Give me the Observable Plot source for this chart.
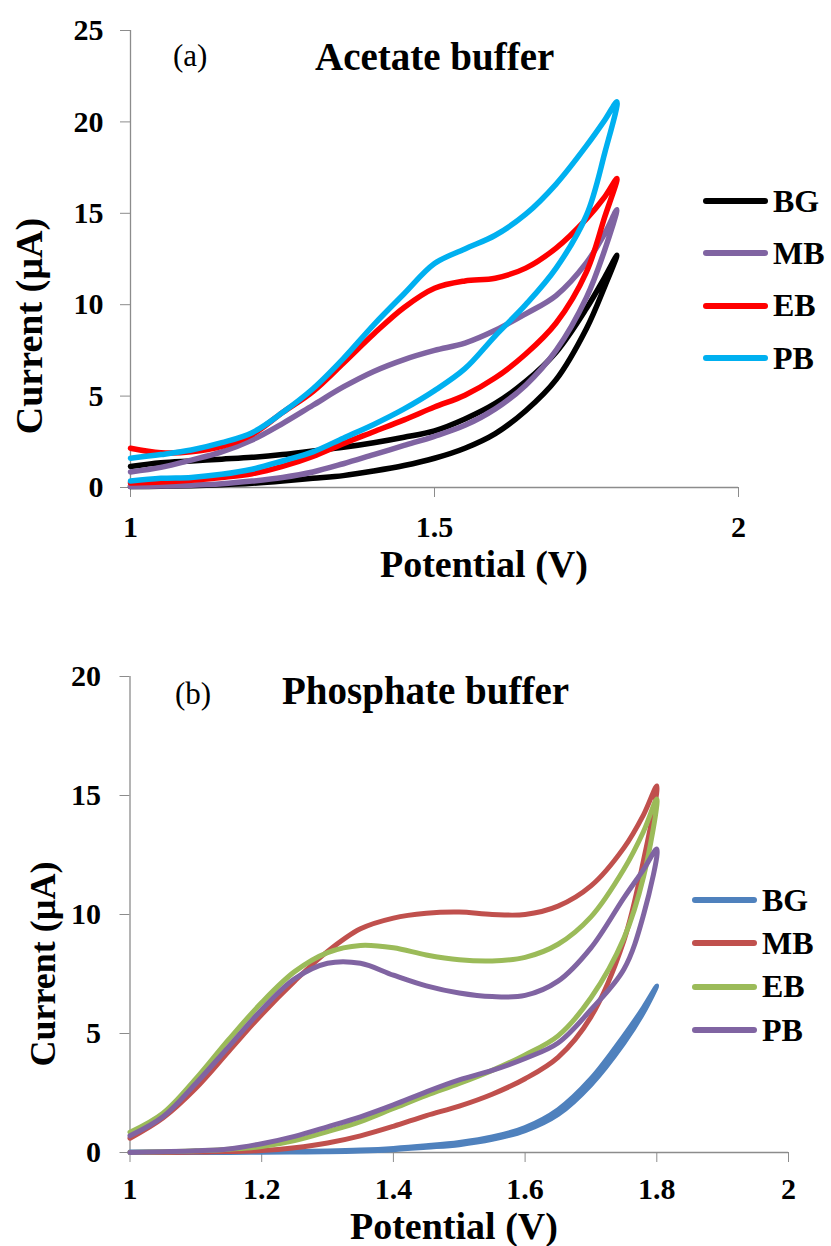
<!DOCTYPE html>
<html>
<head>
<meta charset="utf-8">
<script src="https://cdn.jsdelivr.net/npm/d3@7"></script>
<script src="https://cdn.jsdelivr.net/npm/@observablehq/plot@0.6"></script>
<style>
  body { margin: 0; background: #fff; }
  #page { position: relative; width: 831px; height: 1246px; overflow: hidden; background: #fff;
          font-family: 'Liberation Serif', serif; color: #000; }
  .lbl { position: absolute; white-space: nowrap; line-height: 1; font-family: 'Liberation Serif', serif; }
  .chart { position: absolute; left: 0; }
  .swatch { position: absolute; height: 6px; border-radius: 3px; }
  #page svg text { font-family: 'Liberation Serif', serif !important; font-weight: bold !important; }
</style>
</head>
<body>
<div id="page">
  <div id="chartA" class="chart" style="top:0px"></div>
  <div id="chartB" class="chart" style="top:620px"></div>
</div>
<script>
// ---------------- data ----------------
const seriesNames = ["BG", "MB", "EB", "PB"];
const colorsA = ["#000000", "#8064A2", "#FF0000", "#00B0F0"];
const colorsB = ["#4F81BD", "#C0504D", "#9BBB59", "#8064A2"];

// potential grid (V) shared by all branches
const potential = [1.00, 1.05, 1.10, 1.15, 1.20, 1.25, 1.30, 1.35, 1.40, 1.45, 1.50, 1.55, 1.60, 1.65, 1.70, 1.75, 1.78, 1.80];

// (a) Acetate buffer — lower branch (scan 1.0 -> 1.8 V), current in µA
const aBG_low = [0.05, 0.07, 0.10, 0.15, 0.23, 0.35, 0.50, 0.65, 0.90, 1.20, 1.60, 2.15, 2.95, 4.20, 5.90, 8.70, 11.0, 12.7];
const aMB_low = [0.05, 0.08, 0.12, 0.20, 0.35, 0.55, 0.85, 1.30, 1.80, 2.30, 2.80, 3.40, 4.30, 5.60, 7.50, 10.4, 13.0, 15.2];
const aEB_low = [0.25, 0.30, 0.40, 0.55, 0.75, 1.15, 1.70, 2.40, 3.05, 3.70, 4.40, 5.05, 6.00, 7.30, 9.00, 11.8, 14.8, 16.9];
const aPB_low = [0.35, 0.50, 0.55, 0.72, 1.00, 1.45, 1.95, 2.70, 3.45, 4.30, 5.30, 6.50, 8.30, 10.0, 12.0, 14.9, 18.3, 21.1];
// (a) upper branch (return scan 1.8 -> 1.0 V), listed on the same grid
const aBG_up = [1.15, 1.35, 1.45, 1.55, 1.65, 1.80, 2.00, 2.20, 2.45, 2.75, 3.10, 3.75, 4.60, 5.80, 7.40, 9.80, 11.5, 12.7];
const aMB_up = [0.85, 1.10, 1.50, 1.95, 2.60, 3.50, 4.50, 5.50, 6.35, 7.00, 7.50, 7.90, 8.60, 9.50, 10.5, 12.3, 13.9, 15.2];
const aEB_up = [2.15, 1.90, 1.95, 2.25, 2.90, 4.10, 5.25, 6.80, 8.40, 9.85, 10.9, 11.3, 11.45, 12.0, 13.1, 14.7, 15.9, 16.9];
const aPB_up = [1.60, 1.80, 2.05, 2.45, 3.00, 4.10, 5.40, 7.05, 8.90, 10.6, 12.25, 13.05, 13.8, 14.95, 16.6, 18.7, 20.1, 21.1];

// (b) Phosphate buffer — lower branch
const bBG_low = [0.00, 0.00, 0.00, 0.00, 0.01, 0.02, 0.03, 0.06, 0.12, 0.22, 0.33, 0.55, 0.92, 1.60, 2.85, 4.60, 5.90, 7.00];
const bMB_low = [0.00, 0.00, 0.02, 0.04, 0.08, 0.20, 0.40, 0.70, 1.10, 1.55, 1.95, 2.45, 3.10, 4.00, 5.70, 8.90, 12.3, 15.4];
const bEB_low = [0.00, 0.03, 0.07, 0.14, 0.25, 0.50, 0.88, 1.30, 1.85, 2.40, 2.90, 3.45, 4.10, 4.90, 6.50, 9.00, 11.6, 14.85];
const bPB_low = [0.00, 0.03, 0.07, 0.15, 0.37, 0.68, 1.08, 1.50, 2.00, 2.55, 3.05, 3.45, 3.95, 4.60, 6.00, 7.70, 10.0, 12.75];
// (b) upper branch
const bBG_up = [0.02, 0.02, 0.02, 0.02, 0.03, 0.04, 0.06, 0.10, 0.17, 0.28, 0.42, 0.65, 1.05, 1.80, 3.10, 4.90, 6.10, 7.00];
const bMB_up = [0.60, 1.45, 2.70, 4.25, 5.80, 7.20, 8.45, 9.40, 9.85, 10.05, 10.1, 10.0, 10.0, 10.35, 11.2, 12.8, 14.2, 15.4];
const bEB_up = [0.85, 1.65, 3.10, 4.75, 6.30, 7.60, 8.40, 8.70, 8.60, 8.30, 8.10, 8.05, 8.20, 8.75, 9.90, 11.9, 13.5, 14.85];
const bPB_up = [0.70, 1.50, 2.90, 4.45, 6.00, 7.30, 7.95, 7.95, 7.45, 7.00, 6.70, 6.55, 6.60, 7.20, 8.60, 10.7, 11.9, 12.75];

// axes
const xDomain = [1, 2];
const xTicksA = [1, 1.5, 2];
const xTicksB = [1, 1.2, 1.4, 1.6, 1.8, 2];
const yDomainA = [0, 25];
const yTicksA = [0, 5, 10, 15, 20, 25];
const yDomainB = [0, 20];
const yTicksB = [0, 5, 10, 15, 20];

// ---------------- build rows ----------------
function loopRows(name, low, up) {
  const rows = [];
  potential.forEach((p, i) => rows.push({series: name, potential: p, current: low[i]}));
  for (let i = potential.length - 2; i >= 0; i--) rows.push({series: name, potential: potential[i], current: up[i]});
  return rows;
}
const rowsA = [
  ...loopRows("BG", aBG_low, aBG_up),
  ...loopRows("MB", aMB_low, aMB_up),
  ...loopRows("EB", aEB_low, aEB_up),
  ...loopRows("PB", aPB_low, aPB_up)
];
const rowsB = [
  ...loopRows("BG", bBG_low, bBG_up),
  ...loopRows("MB", bMB_low, bMB_up),
  ...loopRows("EB", bEB_low, bEB_up),
  ...loopRows("PB", bPB_low, bPB_up)
];

const fontFamily = "'Liberation Serif', serif";
const axisGray = "#8c8c8c";
const fmt = d => String(d);

function makeChart(rows, colors, o) {
  return Plot.plot({
    width: 831, height: o.height,
    marginTop: o.mt, marginRight: o.mr, marginBottom: o.mb, marginLeft: o.ml,
    style: {fontFamily, fontSize: "30px", fontWeight: "bold", color: "#000", background: "transparent", overflow: "visible"},
    x: {domain: xDomain},
    y: {domain: o.yDomain},
    color: {domain: seriesNames, range: colors},
    marks: [
      Plot.ruleY([o.yDomain[0]], {stroke: axisGray, strokeWidth: 1.3}),
      Plot.ruleX([xDomain[0]], {stroke: axisGray, strokeWidth: 1.3}),
      Plot.axisX({ticks: o.xTicks, tickFormat: fmt, tickSize: 10, tickPadding: o.xPad, stroke: axisGray, fill: "#000", label: null}),
      Plot.axisY({ticks: o.yTicks, tickFormat: fmt, tickSize: 10, tickPadding: o.yPad, stroke: axisGray, fill: "#000", label: null}),
      Plot.line(rows, {x: "potential", y: "current", z: "series", stroke: "series",
        strokeWidth: o.sw, curve: "catmull-rom", strokeLinejoin: "round", strokeLinecap: "round"})
    ]
  });
}

document.getElementById("chartA").append(makeChart(rowsA, colorsA, {
  height: 620, mt: 30, mr: 93, mb: 133, ml: 130, xTicks: xTicksA, yDomain: yDomainA, yTicks: yTicksA,
  xPad: 18, yPad: 17, sw: 5.5
}));
document.getElementById("chartB").append(makeChart(rowsB, colorsB, {
  height: 626, mt: 56, mr: 43, mb: 94, ml: 129.5, xTicks: xTicksB, yDomain: yDomainB, yTicks: yTicksB,
  xPad: 15, yPad: 19, sw: 5
}));

// ---------------- text overlays ----------------
const page = document.getElementById("page");
function addText(text, left, baseline, size, bold) {
  const d = document.createElement("div");
  d.className = "lbl";
  d.textContent = text;
  d.style.left = left + "px";
  d.style.top = (baseline - 0.8375 * size) + "px";
  d.style.fontSize = size + "px";
  d.style.fontWeight = bold ? "bold" : "normal";
  page.append(d);
}
function addVText(text, cx, cy, size) {
  const d = document.createElement("div");
  d.className = "lbl";
  d.textContent = text;
  d.style.left = cx + "px";
  d.style.top = cy + "px";
  d.style.fontSize = size + "px";
  d.style.fontWeight = "bold";
  d.style.transform = "translate(-50%,-50%) rotate(-90deg)";
  page.append(d);
}
function addLegend(colors, lineLeft, textLeft, y0, step, size) {
  seriesNames.forEach((name, i) => {
    const y = y0 + i * step;
    const s = document.createElement("div");
    s.className = "swatch";
    s.style.left = lineLeft + "px";
    s.style.width = "65px";
    s.style.top = (y - 3) + "px";
    s.style.background = colors[i];
    page.append(s);
    addText(name, textLeft, y + 0.33 * size, size, true);
  });
}

// panel (a)
addText("(a)", 173, 66, 31, false);
addText("Acetate buffer", 315, 70, 39, true);
addText("Potential (V)", 380, 577, 38, true);
addVText("Current (µA)", 29, 326, 38);
addLegend(colorsA, 703, 773, 201, 52.3, 32);

// panel (b)
addText("(b)", 175, 704, 31, false);
addText("Phosphate buffer", 282, 704, 39, true);
addText("Potential (V)", 350, 1239, 38, true);
addVText("Current (µA)", 43, 964, 36);
addLegend(colorsB, 692, 762, 900, 43.3, 32);
</script>
</body>
</html>
